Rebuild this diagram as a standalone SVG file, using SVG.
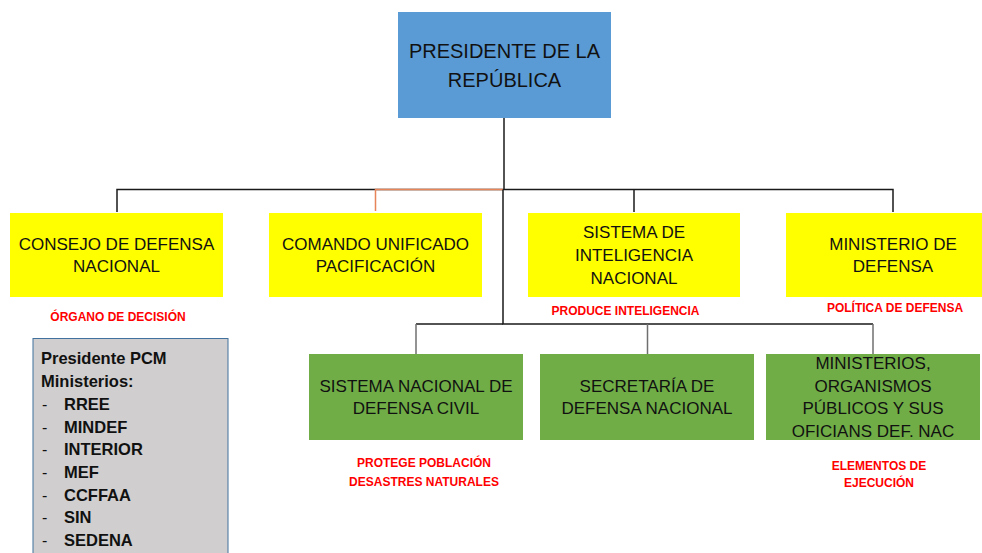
<svg xmlns="http://www.w3.org/2000/svg" width="982" height="553" viewBox="0 0 982 553">
<style>
.t{font-family:"Liberation Sans",Arial,sans-serif;fill:#111;text-anchor:middle}
.box{font-size:17px}
.red{font-family:"Liberation Sans",Arial,sans-serif;font-weight:bold;font-size:12px;fill:#ff0000;text-anchor:middle}
.list{font-family:"Liberation Sans",Arial,sans-serif;font-weight:bold;font-size:16.5px;fill:#111}
.dash{font-family:"Liberation Sans",Arial,sans-serif;font-size:16px;fill:#111}
.yel{fill:#ffff00}
.grn{fill:#70ad47}
.blk{stroke:#1a1a1a;stroke-width:1.5;fill:none}
.gry{stroke:#6f6f6f;stroke-width:1.5;fill:none}
.org{stroke:#e8845a;stroke-width:1.5;fill:none}
</style>
<rect width="982" height="553" fill="#ffffff"/>
<g id="connectors">
<path class="blk" d="M504 118 V189.5"/>
<path class="blk" d="M117 212 V189.5 H893 V212"/>
<path class="org" d="M375.5 211 V189.5 H503"/>
<path class="blk" d="M634 189.5 V212"/>
<path class="blk" d="M503 189.5 V324 H873"/>
<path class="blk" d="M503 324 H416"/>
<path class="gry" d="M416 324 V354"/>
<path class="gry" d="M647.5 324 V354"/>
<path class="gry" d="M873 324 V354"/>
</g>
<g id="presidente">
<rect x="398" y="12" width="213" height="106" fill="#5b9bd5"/>
<text class="t" font-size="20" x="504.5" y="58">PRESIDENTE DE LA</text>
<text class="t" font-size="20" x="504.5" y="87">REPÚBLICA</text>
</g>
<g id="consejo">
<rect class="yel" x="10" y="213" width="213" height="84"/>
<text class="t box" x="116.5" y="250">CONSEJO DE DEFENSA</text>
<text class="t box" x="116.5" y="272">NACIONAL</text>
<text class="red" x="118" y="320.5">ÓRGANO DE DECISIÓN</text>
</g>
<g id="comando">
<rect class="yel" x="269" y="213" width="213" height="84"/>
<text class="t box" x="375.5" y="250">COMANDO UNIFICADO</text>
<text class="t box" x="375.5" y="272">PACIFICACIÓN</text>
</g>
<g id="inteligencia">
<rect class="yel" x="528" y="213" width="212" height="84"/>
<text class="t box" x="634" y="237.5">SISTEMA DE</text>
<text class="t box" x="634" y="260.5">INTELIGENCIA</text>
<text class="t box" x="634" y="283.5">NACIONAL</text>
<text class="red" x="625.5" y="315">PRODUCE INTELIGENCIA</text>
</g>
<g id="mindef">
<rect class="yel" x="786" y="213" width="214" height="84"/>
<text class="t box" x="893" y="250">MINISTERIO DE</text>
<text class="t box" x="893" y="272">DEFENSA</text>
<text class="red" x="895" y="312">POLÍTICA DE DEFENSA</text>
</g>
<g id="defensa-civil">
<rect class="grn" x="309" y="354" width="214" height="86"/>
<text class="t box" x="416" y="392">SISTEMA NACIONAL DE</text>
<text class="t box" x="416" y="414">DEFENSA CIVIL</text>
<text class="red" x="424" y="467">PROTEGE POBLACIÓN</text>
<text class="red" x="424" y="485.5">DESASTRES NATURALES</text>
</g>
<g id="secretaria">
<rect class="grn" x="540" y="354" width="214" height="86"/>
<text class="t box" x="647" y="392">SECRETARÍA DE</text>
<text class="t box" x="647" y="414">DEFENSA NACIONAL</text>
</g>
<g id="ministerios">
<rect class="grn" x="766" y="354" width="214" height="86"/>
<text class="t box" x="873" y="369">MINISTERIOS,</text>
<text class="t box" x="873" y="392">ORGANISMOS</text>
<text class="t box" x="873" y="414">PÚBLICOS Y SUS</text>
<text class="t box" x="873" y="436.5">OFICIANS DEF. NAC</text>
<text class="red" x="879" y="470">ELEMENTOS DE</text>
<text class="red" x="879" y="487">EJECUCIÓN</text>
</g>
<g id="miembros">
<rect x="33" y="338.5" width="195" height="230" fill="#d0cece" stroke="#41719c" stroke-width="1"/>
<text class="list" x="41" y="364">Presidente PCM</text>
<text class="list" x="41" y="386.7">Ministerios:</text>
<g class="dash">
<text x="42" y="410">-</text>
<text x="42" y="432.7">-</text>
<text x="42" y="455.3">-</text>
<text x="42" y="478">-</text>
<text x="42" y="500.7">-</text>
<text x="42" y="523.3">-</text>
<text x="42" y="546">-</text>
</g>
<g class="list">
<text x="64" y="410">RREE</text>
<text x="64" y="432.7">MINDEF</text>
<text x="64" y="455.3">INTERIOR</text>
<text x="64" y="478">MEF</text>
<text x="64" y="500.7">CCFFAA</text>
<text x="64" y="523.3">SIN</text>
<text x="64" y="546">SEDENA</text>
</g>
</g>
</svg>
